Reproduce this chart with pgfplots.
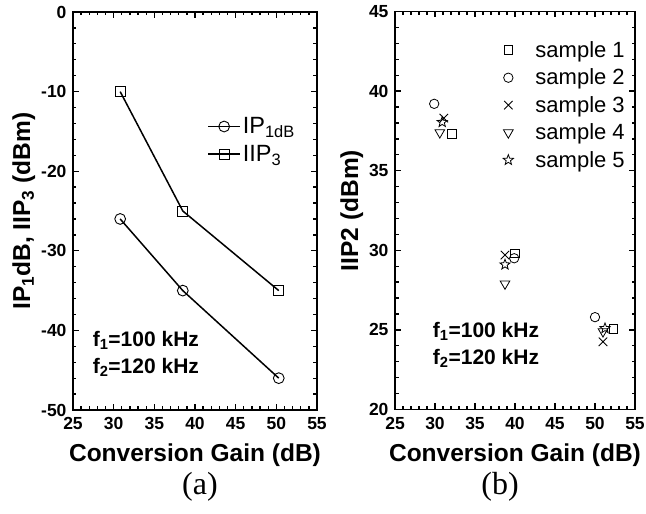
\documentclass[border=0pt]{standalone}
\usepackage{fontspec}
\setmainfont{Liberation Sans}
\newfontfamily\seriffont{Liberation Serif}
\usepackage{pgfplots}
\pgfplotsset{compat=1.18}
\pgfdeclareplotmark{ostar}{%
  \pgfpathmoveto{\pgfpointpolar{90}{\pgfplotmarksize}}%
  \pgfpathlineto{\pgfpointpolar{126}{0.42\pgfplotmarksize}}%
  \pgfpathlineto{\pgfpointpolar{162}{\pgfplotmarksize}}%
  \pgfpathlineto{\pgfpointpolar{198}{0.42\pgfplotmarksize}}%
  \pgfpathlineto{\pgfpointpolar{234}{\pgfplotmarksize}}%
  \pgfpathlineto{\pgfpointpolar{270}{0.42\pgfplotmarksize}}%
  \pgfpathlineto{\pgfpointpolar{306}{\pgfplotmarksize}}%
  \pgfpathlineto{\pgfpointpolar{342}{0.42\pgfplotmarksize}}%
  \pgfpathlineto{\pgfpointpolar{18}{\pgfplotmarksize}}%
  \pgfpathlineto{\pgfpointpolar{54}{0.42\pgfplotmarksize}}%
  \pgfpathclose
  \pgfusepathqstroke}
\pgfplotsset{
  myax/.style={
    scale only axis, clip=false,
    xmin=25, xmax=55, xtick={25,30,...,55},
    minor x tick num=4, minor y tick num=4,
    tick align=inside, major tick length=6pt, minor tick length=3.5pt,
    every tick/.style={black, line width=1.3pt},
    axis line style={line width=1.9pt},
    tick label style={font=\fontsize{17.5}{17.5}\selectfont\bfseries},
    xticklabel style={yshift=-4pt},
    yticklabel style={xshift=-3pt},
    /pgf/number format/assume math mode=true,
    label style={font=\fontsize{24.5}{24.5}\selectfont\bfseries},
    xlabel={Conversion Gain (dB)},
    xlabel style={yshift=-7pt},
  }
}
\begin{document}
\begin{tikzpicture}[x=1pt,y=1pt]
\useasboundingbox (0,0) rectangle (646,514);
% ---------- panel (a)
\begin{axis}[myax, at={(73pt,104pt)}, anchor=south west,
  width=244pt, height=398pt,
  ymin=-50, ymax=0, ytick={-50,-40,...,0},
  ylabel={IP\textsubscript{1}dB, IIP\textsubscript{3} (dBm)},
  ylabel style={yshift=-1pt},
  legend style={draw=none, fill=none, at={(0.55,0.74)}, anchor=north west,
    font=\fontsize{23.5}{23.5}\selectfont, row sep=6pt, inner sep=0pt},
  legend cell align=left,
  legend image code/.code={\draw[mark repeat=2,mark phase=2] plot coordinates {(0pt,0pt) (16pt,0pt) (32pt,0pt)};},
]
\addplot[black, line width=1.5pt, mark=o, mark size=5.4pt, mark options={fill=white, line width=0.9pt}]
  coordinates {(30.8,-26) (38.5,-35) (50.3,-46)};
\addlegendentry{IP\textsubscript{1dB}}
\addplot[black, line width=1.5pt, mark=square, mark size=5pt, mark options={fill=white, line width=0.9pt}]
  coordinates {(30.8,-10) (38.5,-25) (50.3,-35)};
\addlegendentry{IIP\textsubscript{3}}
\node[anchor=west, align=left, font=\fontsize{21}{27}\selectfont\bfseries] at (axis cs:27.0,-43.0)
  {f\textsubscript{1}=100 kHz\\f\textsubscript{2}=120 kHz};
\end{axis}
\node[font=\seriffont\fontsize{32}{32}\selectfont] at (200,27) {(a)};
% ---------- panel (b)
\begin{axis}[myax, at={(395pt,104.5pt)}, anchor=south west,
  width=240pt, height=398pt,
  ymin=20, ymax=45, ytick={20,25,...,45},
  ylabel={IIP2 (dBm)},
  ylabel style={yshift=-1pt},
  legend style={draw=none, fill=none, at={(0.45,0.93)}, anchor=north west,
    font=\fontsize{22}{22}\selectfont, row sep=6pt, inner sep=0pt},
  legend cell align=left,
  legend image code/.code={\draw plot coordinates {(12pt,0pt)};},
  only marks,
]
\addplot[black, mark=square, mark size=4.4pt, mark options={line width=0.8pt}]
  coordinates {(32.1,37.3) (40.0,29.8) (52.3,25.05)};
\addlegendentry{\hspace*{20pt}sample 1}
\addplot[black, mark=o, mark size=4.7pt, mark options={line width=0.8pt}]
  coordinates {(29.9,39.2) (39.9,29.5) (50.0,25.8)};
\addlegendentry{\hspace*{20pt}sample 2}
\addplot[black, mark=x, mark size=6pt, mark options={line width=0.9pt}]
  coordinates {(31.1,38.3) (38.75,29.7) (51.0,24.25)};
\addlegendentry{\hspace*{20pt}sample 3}
\addplot[black, mark=triangle, mark size=5.6pt, mark options={rotate=180, line width=0.8pt}]
  coordinates {(30.6,37.4) (38.75,27.9) (51.0,24.9)};
\addlegendentry{\hspace*{20pt}sample 4}
\addplot[black, mark=ostar, mark size=5.4pt, mark options={line width=0.8pt}]
  coordinates {(30.9,38.05) (38.75,29.1) (51.25,25.1)};
\addlegendentry{\hspace*{20pt}sample 5}
\node[anchor=west, align=left, font=\fontsize{21}{27}\selectfont\bfseries] at (axis cs:29.3,24.05)
  {f\textsubscript{1}=100 kHz\\f\textsubscript{2}=120 kHz};
\end{axis}
\node[font=\seriffont\fontsize{32}{32}\selectfont] at (500,27) {(b)};
\end{tikzpicture}
\end{document}
